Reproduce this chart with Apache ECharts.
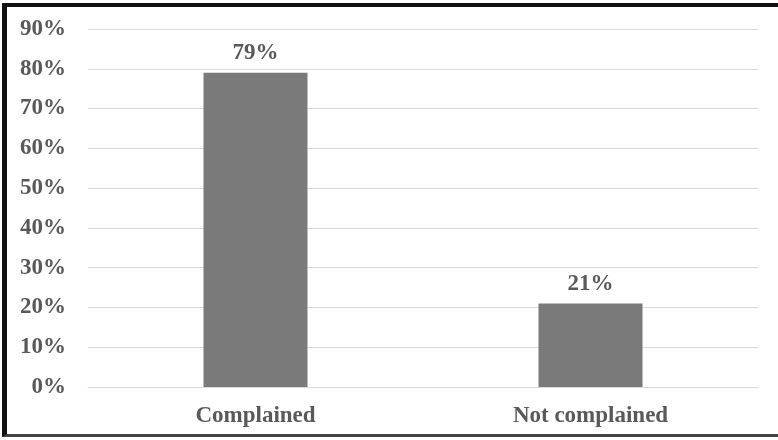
<!DOCTYPE html>
<html>
<head>
<meta charset="utf-8">
<script src="https://cdn.jsdelivr.net/npm/echarts@6/dist/echarts.min.js"></script>
<style>
  html, body { margin: 0; padding: 0; background: #fff; }
  #frame {
    position: absolute; left: 2px; top: 3px; width: 776px; height: 434px;
    border-top: 4px solid #111; border-left: 5px solid #111; border-bottom: 3px solid #444;
    box-sizing: border-box;
  }
  #chart { position: absolute; left: 0; top: 0; width: 778px; height: 440px; }
</style>
</head>
<body>
<div id="frame"></div>
<div id="chart"></div>
<script>
// Share of respondents by complaint status
const categories = ['Complained', 'Not complained'];
const shares = [79, 21];
const yTicks = [0, 10, 20, 30, 40, 50, 60, 70, 80, 90];

const font = '"Liberation Serif", "Times New Roman", serif';
const chart = echarts.init(document.getElementById('chart'), null, { renderer: 'canvas' });
chart.setOption({
  animation: false,
  backgroundColor: 'transparent',
  grid: { left: 88, right: 20, top: 29, bottom: 53 },
  xAxis: {
    type: 'category',
    data: categories,
    axisLine: { show: true, lineStyle: { color: '#d9d9d9', width: 1 } },
    axisTick: { show: false },
    axisLabel: { margin: 18, color: '#595959', fontFamily: font, fontWeight: 'bold', fontSize: 23 }
  },
  yAxis: {
    type: 'value',
    min: yTicks[0],
    max: yTicks[yTicks.length - 1],
    interval: 10,
    axisLine: { show: false },
    axisTick: { show: false },
    splitLine: { lineStyle: { color: '#d9d9d9', width: 1 } },
    axisLabel: { margin: 22, color: '#595959', fontFamily: font, fontWeight: 'bold', fontSize: 23, formatter: '{value}%' }
  },
  series: [{
    type: 'bar',
    data: shares,
    barWidth: 104,
    itemStyle: { color: '#7a7a7a' },
    label: {
      show: true, position: 'top', distance: 8,
      color: '#595959', fontFamily: font, fontWeight: 'bold', fontSize: 23,
      formatter: '{c}%'
    }
  }]
});
</script>
</body>
</html>
